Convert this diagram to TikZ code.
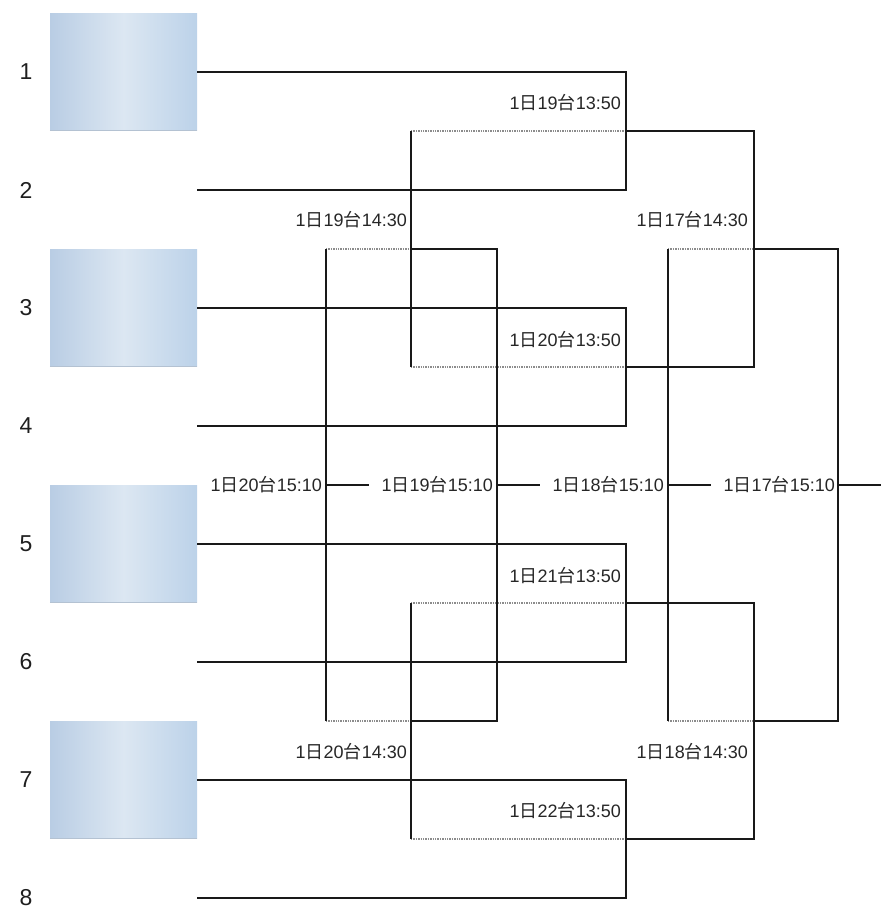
\documentclass[tikz,border=0pt]{standalone}
\usepackage{fontspec}
\setmainfont{Liberation Sans}
\newfontfamily\cjk{Noto Sans CJK JP}
\newcommand\dt[3]{#1{\cjk 日}#2{\cjk 台}#3}
\definecolor{boxedge}{HTML}{B9CDE4}
\definecolor{boxedgeR}{HTML}{BCD2E9}
\definecolor{boxmid}{HTML}{DCE7F2}
\definecolor{boxline}{HTML}{B4C2D2}
\begin{document}
\begin{tikzpicture}[x=1pt,y=-1pt,
  solidline/.style={line width=1.9pt, black!90},
  dotline/.style={line width=1.4pt, black!45, densely dotted},
  teambox/.style={draw=none, left color=boxedge, right color=boxedgeR, middle color=boxmid, minimum width=147pt, minimum height=117pt, inner sep=0pt},
  rowno/.style={font=\fontsize{23}{26}\selectfont, text=black!88},
  match/.style={font=\fontsize{18}{20}\selectfont, text=black!85, inner sep=0pt, anchor=east}]
\useasboundingbox (0,0) rectangle (881,910);
% team boxes
\node[teambox] (b1) at (123.5,72) {};
\node[teambox] (b3) at (123.5,308) {};
\node[teambox] (b5) at (123.5,544) {};
\node[teambox] (b7) at (123.5,780) {};
\foreach \b in {b1,b3,b5,b7}
  \draw[boxline, line width=1pt] (\b.south west) -- (\b.south east);
% row numbers
\foreach \k/\y in {1/72,2/190,3/308,4/426,5/544,6/662,7/780,8/898}
  \node[rowno] (n\k) at (26,\y) {\k};
% row ends
\foreach \k/\y in {1/72,2/190,3/308,4/426,5/544,6/662,7/780,8/898}
  \coordinate (e\k) at (197,\y);
% round-1 brackets
\foreach \k/\a/\b in {1/72/190,2/308/426,3/544/662,4/780/898}{
  \coordinate (p\k t) at (626,\a);
  \coordinate (p\k b) at (626,\b);
}
\coordinate (m1) at (626,131); \coordinate (m2) at (626,367);
\coordinate (m3) at (626,603); \coordinate (m4) at (626,839);
\coordinate (l1) at (411,131); \coordinate (l2) at (411,367);
\coordinate (l3) at (411,603); \coordinate (l4) at (411,839);
\coordinate (w1) at (754,131); \coordinate (w2) at (754,367);
\coordinate (w3) at (754,603); \coordinate (w4) at (754,839);
% dotted parts (drawn first)
\draw[dotline] (l1) -- (m1);
\draw[dotline] (l2) -- (m2);
\draw[dotline] (l3) -- (m3);
\draw[dotline] (l4) -- (m4);
\draw[dotline] (326,249) -- (411,249);
\draw[dotline] (326,721) -- (411,721);
\draw[dotline] (668,249) -- (754,249);
\draw[dotline] (668,721) -- (754,721);
% solid brackets
\draw[solidline] (e1) -- (p1t) -- (p1b) -- (e2);
\draw[solidline] (e3) -- (p2t) -- (p2b) -- (e4);
\draw[solidline] (e5) -- (p3t) -- (p3b) -- (e6);
\draw[solidline] (e7) -- (p4t) -- (p4b) -- (e8);
\draw[solidline] (m1) -- (w1) -- (w2) -- (m2);
\draw[solidline] (m3) -- (w3) -- (w4) -- (m4);
\draw[solidline] (l1) -- (l2);
\draw[solidline] (l3) -- (l4);
\draw[solidline] (411,249) -- (497,249) -- (497,721) -- (411,721);
\draw[solidline] (326,249) -- (326,721);
\draw[solidline] (754,249) -- (838,249) -- (838,721) -- (754,721);
\draw[solidline] (668,249) -- (668,721);
% match labels
\node[match] (t1) at (621,103) {\dt{1}{19}{13:50}};
\node[match] (t2) at (621,340) {\dt{1}{20}{13:50}};
\node[match] (t3) at (621,576) {\dt{1}{21}{13:50}};
\node[match] (t4) at (621,811) {\dt{1}{22}{13:50}};
\node[match] (s1) at (407,220) {\dt{1}{19}{14:30}};
\node[match] (s2) at (748,220) {\dt{1}{17}{14:30}};
\node[match] (s3) at (407,752) {\dt{1}{20}{14:30}};
\node[match] (s4) at (748,752) {\dt{1}{18}{14:30}};
\node[match] (f1) at (322,485) {\dt{1}{20}{15:10}};
\node[match] (f2) at (493,485) {\dt{1}{19}{15:10}};
\node[match] (f3) at (664,485) {\dt{1}{18}{15:10}};
\node[match] (f4) at (835,485) {\dt{1}{17}{15:10}};
\coordinate (fin) at (881,485);
\draw[solidline] (326,485) -- ([xshift=-13pt]f2.west);
\draw[solidline] (497,485) -- ([xshift=-13pt]f3.west);
\draw[solidline] (668,485) -- ([xshift=-13pt]f4.west);
\draw[solidline] (838,485) -- (fin);
\end{tikzpicture}
\end{document}
